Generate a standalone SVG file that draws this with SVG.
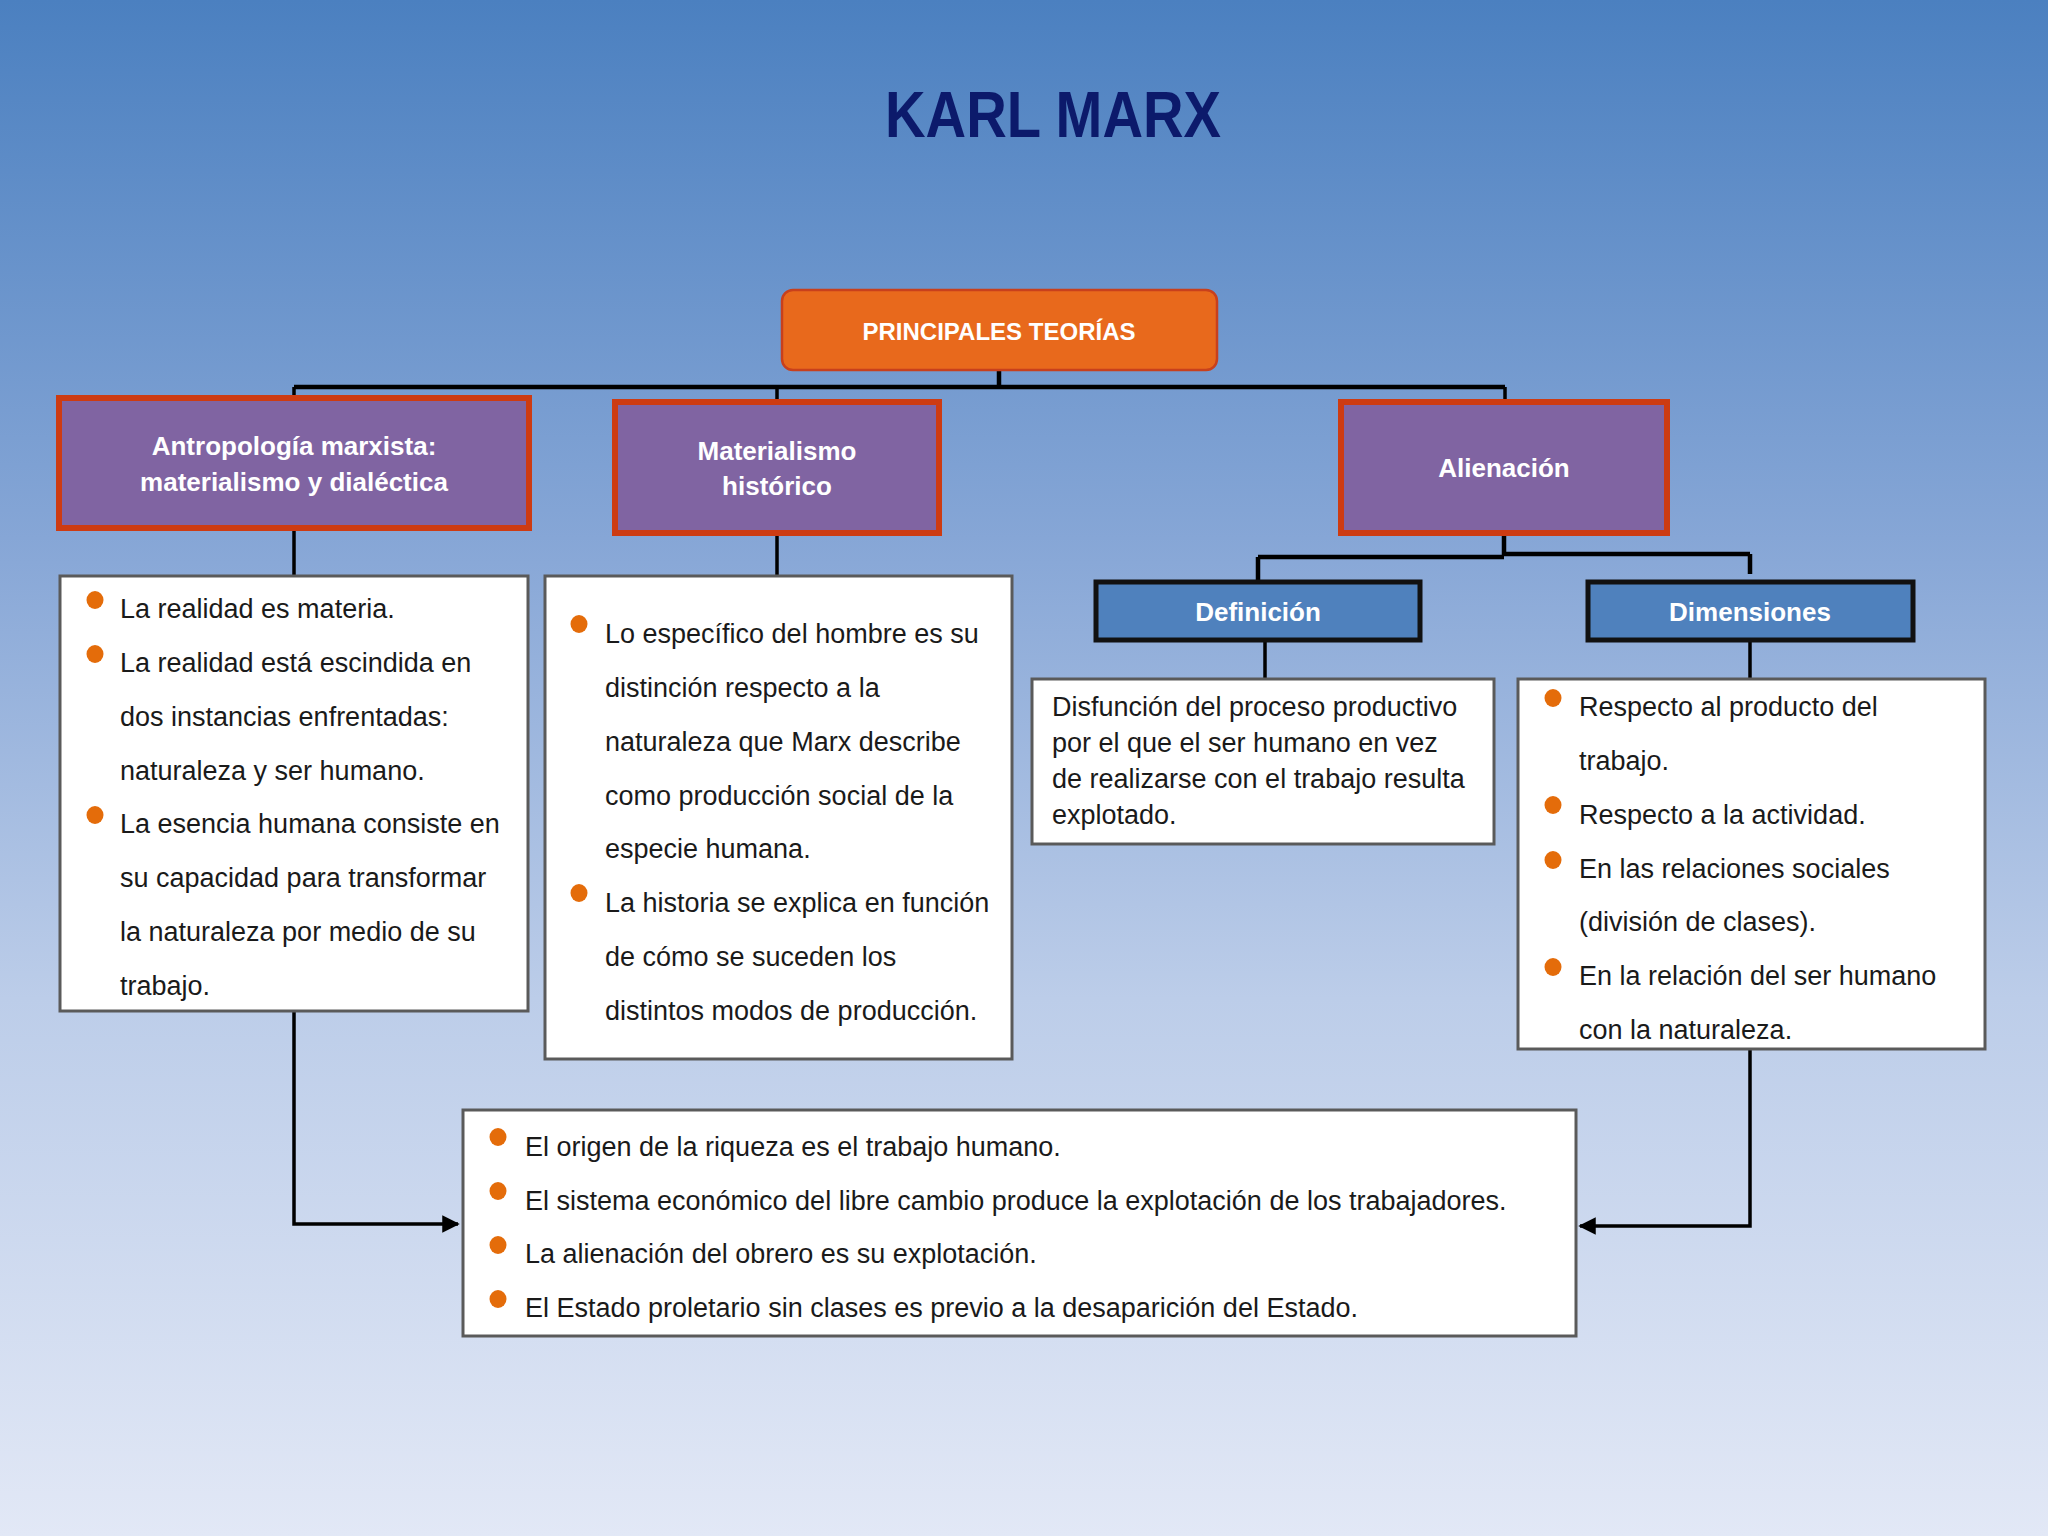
<svg xmlns="http://www.w3.org/2000/svg" width="2048" height="1536" viewBox="0 0 2048 1536">
<defs>
<linearGradient id="bg" x1="0" y1="0" x2="0" y2="1">
<stop offset="0" stop-color="#4b80c0"/>
<stop offset="0.35" stop-color="#86a6d6"/>
<stop offset="0.65" stop-color="#bccde9"/>
<stop offset="1" stop-color="#e2e8f6"/>
</linearGradient>
<marker id="arr" viewBox="0 0 10 10" refX="9" refY="5" markerWidth="5" markerHeight="5" orient="auto" markerUnits="strokeWidth">
<path d="M0,0 L10,5 L0,10 z" fill="#000"/>
</marker>
<style>
.t{font-family:"Liberation Sans",Arial,sans-serif;}
.hd{font-family:"Liberation Sans",Arial,sans-serif;font-weight:bold;fill:#fff;text-anchor:middle;}
.body{font-family:"Liberation Sans",Arial,sans-serif;font-size:27px;fill:#1a1a1a;}
.purple{fill:#8064a2;stroke:#cd3b12;stroke-width:6;}
.blue{fill:#4f81bd;stroke:#111;stroke-width:5;}
.white{fill:#fff;stroke:#5a5a5a;stroke-width:3;}
.bul{fill:#e46c0a;}
.conn{fill:none;stroke:#000;stroke-width:3.5;}
.bus{fill:none;stroke:#000;stroke-width:4.5;}
</style>
</defs>
<rect x="0" y="0" width="2048" height="1536" fill="url(#bg)"/>
<text class="t" x="1053" y="137" font-size="64" font-weight="bold" fill="#0c1a6b" text-anchor="middle" textLength="336" lengthAdjust="spacingAndGlyphs">KARL MARX</text>

<g id="connectors">
<path class="bus" d="M999,370 V387 M294,387 H1505"/>
<path class="conn" d="M294,387 V398 M777,387 V402 M1505,387 V402"/>
<path class="conn" d="M294,528 V576"/>
<path class="conn" d="M777,533 V576"/>
<path class="bus" d="M1504,533 V556 M1258,557 H1504 M1504,554 H1750 M1258,557 V582 M1750,554 V574"/>
<path class="conn" d="M1265,642 V679"/>
<path class="conn" d="M1750,642 V679"/>
<path class="conn" d="M294,1011 V1224 H458" marker-end="url(#arr)"/>
<path class="conn" d="M1750,1049 V1226 H1580" marker-end="url(#arr)"/>
</g>

<g id="principales">
<rect x="782" y="290" width="435" height="80" rx="11" fill="#e8691c" stroke="#c8401c" stroke-width="2.5"/>
<text class="hd" x="999" y="340" font-size="24" textLength="273" lengthAdjust="spacingAndGlyphs">PRINCIPALES TEORÍAS</text>
</g>

<g id="antropologia">
<rect class="purple" x="59" y="398" width="470" height="130"/>
<text class="hd" x="294" y="455" font-size="26">Antropología marxista:</text>
<text class="hd" x="294" y="491" font-size="26">materialismo y dialéctica</text>
</g>

<g id="materialismo">
<rect class="purple" x="615" y="402" width="324" height="131"/>
<text class="hd" x="777" y="460" font-size="26">Materialismo</text>
<text class="hd" x="777" y="495" font-size="26">histórico</text>
</g>

<g id="alienacion">
<rect class="purple" x="1341" y="402" width="326" height="131"/>
<text class="hd" x="1504" y="477" font-size="26">Alienación</text>
</g>

<g id="definicion">
<rect class="blue" x="1096" y="582" width="324" height="58"/>
<text class="hd" x="1258" y="621" font-size="26">Definición</text>
</g>

<g id="dimensiones">
<rect class="blue" x="1588" y="582" width="325" height="58"/>
<text class="hd" x="1750" y="621" font-size="26">Dimensiones</text>
</g>

<g id="box-antropologia">
<rect class="white" x="60" y="576" width="468" height="435"/>
<ellipse class="bul" cx="95" cy="600" rx="8.5" ry="9"/>
<ellipse class="bul" cx="95" cy="654" rx="8.5" ry="9"/>
<ellipse class="bul" cx="95" cy="815" rx="8.5" ry="9"/>
<text class="body" x="120" y="618">La realidad es materia.</text>
<text class="body" x="120" y="672">La realidad está escindida en</text>
<text class="body" x="120" y="726">dos instancias enfrentadas:</text>
<text class="body" x="120" y="780">naturaleza y ser humano.</text>
<text class="body" x="120" y="833">La esencia humana consiste en</text>
<text class="body" x="120" y="887">su capacidad para transformar</text>
<text class="body" x="120" y="941">la naturaleza por medio de su</text>
<text class="body" x="120" y="995">trabajo.</text>
</g>

<g id="box-materialismo">
<rect class="white" x="545" y="576" width="467" height="483"/>
<ellipse class="bul" cx="579" cy="624" rx="8.5" ry="9"/>
<ellipse class="bul" cx="579" cy="893" rx="8.5" ry="9"/>
<text class="body" x="605" y="643">Lo específico del hombre es su</text>
<text class="body" x="605" y="697">distinción respecto a la</text>
<text class="body" x="605" y="751">naturaleza que Marx describe</text>
<text class="body" x="605" y="805">como producción social de la</text>
<text class="body" x="605" y="858">especie humana.</text>
<text class="body" x="605" y="912">La historia se explica en función</text>
<text class="body" x="605" y="966">de cómo se suceden los</text>
<text class="body" x="605" y="1020">distintos modos de producción.</text>
</g>

<g id="box-definicion">
<rect class="white" x="1032" y="679" width="462" height="165"/>
<text class="body" x="1052" y="716">Disfunción del proceso productivo</text>
<text class="body" x="1052" y="752">por el que el ser humano en vez</text>
<text class="body" x="1052" y="788">de realizarse con el trabajo resulta</text>
<text class="body" x="1052" y="824">explotado.</text>
</g>

<g id="box-dimensiones">
<rect class="white" x="1518" y="679" width="467" height="370"/>
<ellipse class="bul" cx="1553" cy="698" rx="8.5" ry="9"/>
<ellipse class="bul" cx="1553" cy="805" rx="8.5" ry="9"/>
<ellipse class="bul" cx="1553" cy="860" rx="8.5" ry="9"/>
<ellipse class="bul" cx="1553" cy="967" rx="8.5" ry="9"/>
<text class="body" x="1579" y="716">Respecto al producto del</text>
<text class="body" x="1579" y="770">trabajo.</text>
<text class="body" x="1579" y="824">Respecto a la actividad.</text>
<text class="body" x="1579" y="878">En las relaciones sociales</text>
<text class="body" x="1579" y="931">(división de clases).</text>
<text class="body" x="1579" y="985">En la relación del ser humano</text>
<text class="body" x="1579" y="1039">con la naturaleza.</text>
</g>

<g id="box-conclusiones">
<rect class="white" x="463" y="1110" width="1113" height="226"/>
<ellipse class="bul" cx="498" cy="1137" rx="8.5" ry="9"/>
<ellipse class="bul" cx="498" cy="1191" rx="8.5" ry="9"/>
<ellipse class="bul" cx="498" cy="1245" rx="8.5" ry="9"/>
<ellipse class="bul" cx="498" cy="1299" rx="8.5" ry="9"/>
<text class="body" x="525" y="1156">El origen de la riqueza es el trabajo humano.</text>
<text class="body" x="525" y="1210">El sistema económico del libre cambio produce la explotación de los trabajadores.</text>
<text class="body" x="525" y="1263">La alienación del obrero es su explotación.</text>
<text class="body" x="525" y="1317">El Estado proletario sin clases es previo a la desaparición del Estado.</text>
</g>
</svg>
